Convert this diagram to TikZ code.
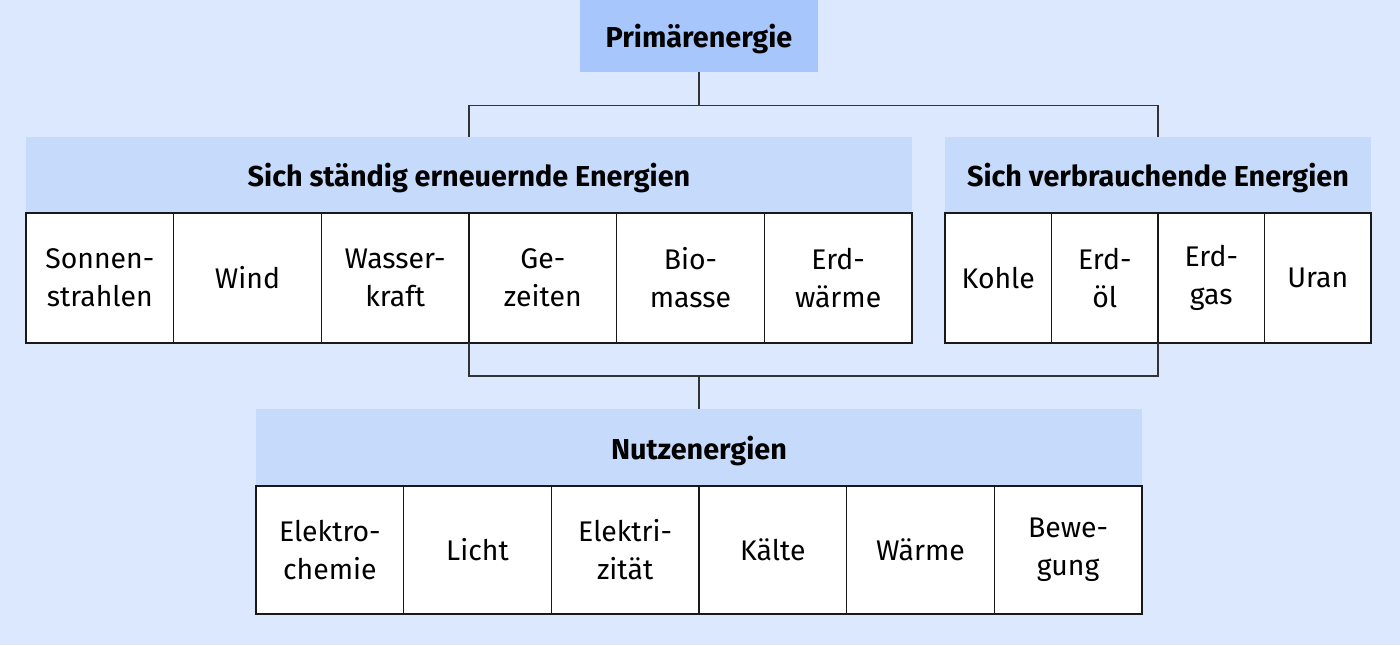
\documentclass[tikz,border=0pt]{standalone}
\usepackage{fontspec}
\setmainfont{Fira Sans}
\usetikzlibrary{positioning,calc}
\definecolor{bgblue}{HTML}{DCE8FD}
\definecolor{topblue}{HTML}{A7C7FC}
\definecolor{headblue}{HTML}{C6DBFC}
\definecolor{linegray}{HTML}{333333}

\begin{document}
\begin{tikzpicture}[x=1pt,y=1pt,font=\fontsize{14.2}{19}\selectfont,
    head/.style={fill=headblue, minimum width=443pt, minimum height=38pt,
        outer sep=0pt, text depth=0pt, font=\fontsize{14.4}{19}\selectfont\bfseries},
    cell/.style={draw=black!90, fill=white, line width=0.7pt,
        minimum width=73.83pt, minimum height=65pt, inner sep=2pt,
        outer sep=0pt, align=center},
    smallcell/.style={cell, minimum width=53.25pt},
    link/.style={draw=linegray, line width=0.8pt}]

% background
\fill[bgblue] (0,0) rectangle (700,-322.5);
\useasboundingbox (0,0) rectangle (700,-322.5);

% Top block
\node[fill=topblue,
    minimum width=119pt,
    minimum height=36pt,
    text depth=0pt,
    font=\fontsize{14.4}{19}\selectfont\bfseries
] (prim) at (349.5,-18) {Primärenergie};

% Renewable energies
\node[head, anchor=north west] (ren) at (13,-68.5) {Sich ständig erneuernde Energien};
\node[cell, below right=0pt and 0pt of ren.south west] (r1) {Sonnen-\\strahlen};
\node[cell, right=0pt of r1] (r2) {Wind};
\node[cell, right=0pt of r2] (r3) {Wasser-\\kraft};
\node[cell, right=0pt of r3] (r4) {Ge-\\zeiten};
\node[cell, right=0pt of r4] (r5) {Bio-\\masse};
\node[cell, right=0pt of r5] (r6) {Erd-\\wärme};

% Consumed energies
\node[head, minimum width=213pt, anchor=north west] (ver) at (472.5,-68.5) {Sich verbrauchende Energien};
\node[smallcell, below right=0pt and 0pt of ver.south west] (v1) {Kohle};
\node[smallcell, right=0pt of v1] (v2) {Erd-\\öl};
\node[smallcell, right=0pt of v2] (v3) {Erd-\\gas};
\node[smallcell, right=0pt of v3] (v4) {Uran};

% Useful energies
\node[head, minimum height=38.5pt, anchor=north west] (nutz) at (128,-204.5) {Nutzenergien};
\node[cell, minimum height=64pt, below right=0pt and 0pt of nutz.south west] (n1) {Elektro-\\chemie};
\node[cell, minimum height=64pt, right=0pt of n1] (n2) {Licht};
\node[cell, minimum height=64pt, right=0pt of n2] (n3) {Elektri-\\zität};
\node[cell, minimum height=64pt, right=0pt of n3] (n4) {Kälte};
\node[cell, minimum height=64pt, right=0pt of n4] (n5) {Wärme};
\node[cell, minimum height=64pt, right=0pt of n5] (n6) {Bewe-\\gung};

% Lines
\coordinate (top) at ($(prim.south)+(0,-16.5)$);
\coordinate (bot) at ($(nutz.north)+(0,16.5)$);
\draw[link] (prim.south) -- (top);
\draw[link] (ren.north) |- (top) -| (ver.north);
\draw[link] (r3.south east) |- (bot) -| (v2.south east);
\draw[link] (bot) -- (nutz.north);

\end{tikzpicture}
\end{document}
